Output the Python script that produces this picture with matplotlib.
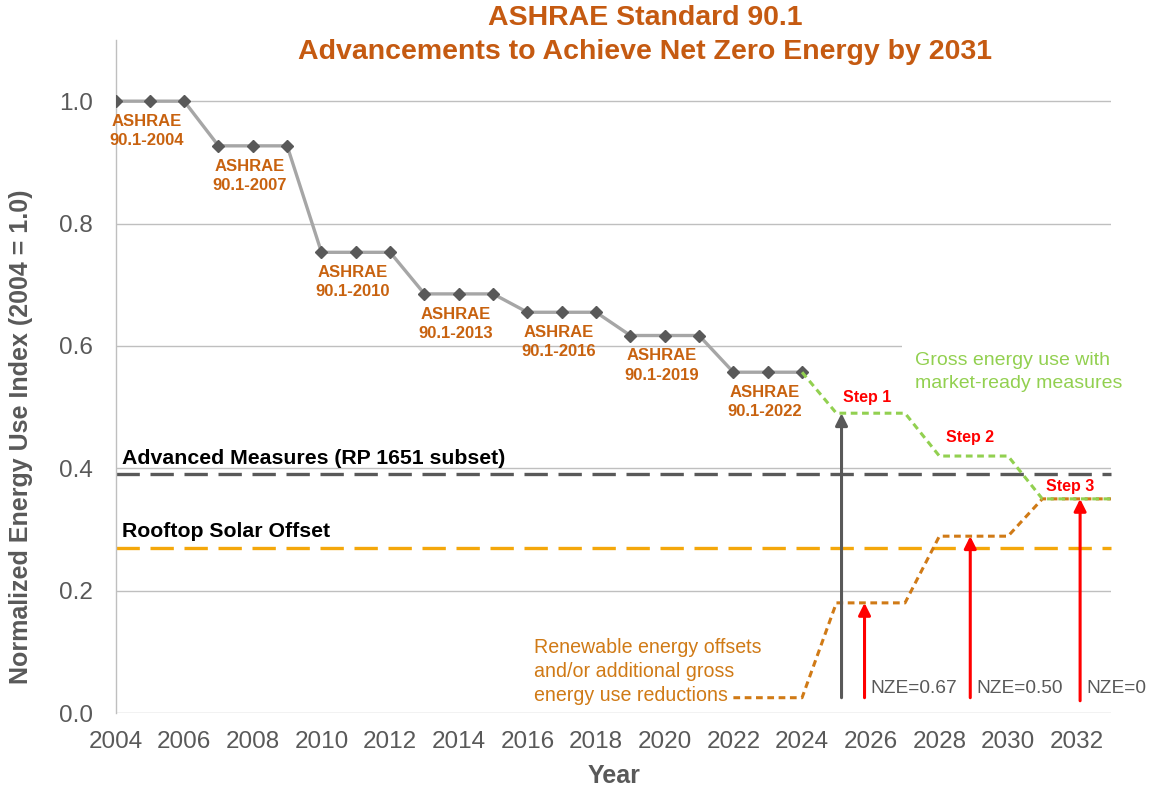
import matplotlib
matplotlib.use("Agg")
import matplotlib.pyplot as plt
from matplotlib.patches import Rectangle

plt.rcParams['font.family'] = ['Liberation Sans', 'DejaVu Sans']

# ---------------- data ----------------
years = list(range(2004, 2025))
eui = [1.0, 1.0, 1.0,
       0.927, 0.927, 0.927,
       0.753, 0.753, 0.753,
       0.685, 0.685, 0.685,
       0.655, 0.655, 0.655,
       0.617, 0.617, 0.617,
       0.557, 0.557, 0.557]

std_labels = ['ASHRAE\n90.1-2004', 'ASHRAE\n90.1-2007', 'ASHRAE\n90.1-2010',
              'ASHRAE\n90.1-2013', 'ASHRAE\n90.1-2016', 'ASHRAE\n90.1-2019',
              'ASHRAE\n90.1-2022']
std_mid_years = [2005, 2008, 2011, 2014, 2017, 2020, 2023]
std_values = [1.0, 0.927, 0.753, 0.685, 0.655, 0.617, 0.557]

gross_years = [2024, 2025, 2027, 2028, 2030, 2031, 2033]
gross_vals = [0.557, 0.49, 0.49, 0.42, 0.42, 0.35, 0.35]

renew_years = [2022, 2024, 2025, 2027, 2028, 2030, 2031, 2033]
renew_vals = [0.025, 0.025, 0.18, 0.18, 0.289, 0.289, 0.35, 0.35]

advanced_level = 0.39
solar_level = 0.27

gray_arrow = (2025.15, 0.025, 0.49)
red_arrow_x = [2025.82, 2028.9, 2032.1]
red_arrow_bottom = [0.025, 0.025, 0.02]
red_arrow_top = [0.18, 0.289, 0.35]
nze_labels = ['NZE=0.67', 'NZE=0.50', 'NZE=0']

step_labels = ['Step 1', 'Step 2', 'Step 3']
step_x = [2025.9, 2028.9, 2031.8]
step_y = [0.516, 0.45, 0.37]

x_ticks = list(range(2004, 2033, 2))
y_ticks = [0.0, 0.2, 0.4, 0.6, 0.8, 1.0]

# ---------------- colours ----------------
c_title = '#C55A11'
c_label = '#C8620F'
c_gray_line = '#A6A6A6'
c_marker = '#595959'
c_green = '#92D050'
c_orange = '#D07A16'
c_solar = '#F4A70A'
c_text = '#595959'
c_grid = '#BFBFBF'
c_red = '#FF0000'

W, H = 1156, 789
fig = plt.figure(figsize=(W / 100, H / 100), dpi=100)
ax = fig.add_axes([115.5 / W, 1 - 713 / H, (1111 - 115.5) / W, (713 - 40) / H])

ax.set_xlim(2004, 2033)
ax.set_ylim(0, 1.1)
ax.set_xticks(x_ticks)
ax.set_xticklabels([str(t) for t in x_ticks])
ax.set_yticks(y_ticks)
ax.set_yticklabels([f'{t:.1f}' for t in y_ticks])
ax.tick_params(axis='both', length=0, labelsize=17.5, colors=c_text)
ax.tick_params(axis='y', pad=16.5)
ax.tick_params(axis='x', pad=13)
ax.grid(axis='y', color=c_grid, lw=1.0)
ax.set_axisbelow(True)
for s in ['top', 'right', 'bottom']:
    ax.spines[s].set_visible(False)
ax.spines['left'].set_color(c_grid)
ax.spines['left'].set_linewidth(1.0)

# white patch behind the "Gross energy" note (hides part of the 0.6 grid line)
ax.add_patch(Rectangle((2026.9, 0.585), 6.5, 0.03, fc='white', ec='none',
                       zorder=1, clip_on=False))

# reference horizontal dashed lines
ax.plot([2004, 2033], [advanced_level] * 2, color='#595959', lw=2.4,
        dashes=(7, 3.2), zorder=2, clip_on=False)
ax.plot([2004, 2033], [solar_level] * 2, color=c_solar, lw=2.4,
        dashes=(7, 3.2), zorder=2, clip_on=False)
ax.text(2004.2, advanced_level + 0.011, 'Advanced Measures (RP 1651 subset)',
        fontsize=15.3, fontweight='bold', color='black', va='bottom', ha='left')
ax.text(2004.2, solar_level + 0.011, 'Rooftop Solar Offset',
        fontsize=15.3, fontweight='bold', color='black', va='bottom', ha='left')

# standards line
ax.plot(years, eui, color=c_gray_line, lw=2.4, zorder=3)
ax.plot(years, eui, ls='none', marker='D', ms=6, color=c_marker, zorder=4)
for lab, xm, v in zip(std_labels, std_mid_years, std_values):
    ax.annotate(lab, (xm, v), xytext=(-3, -30), textcoords='offset pixels',
                ha='center', va='center', fontsize=12, fontweight='bold',
                color=c_label, linespacing=1.35, zorder=5)

# projections
ax.plot(renew_years, renew_vals, color=c_orange, lw=2.2, dashes=(2.2, 1.5), zorder=4)
ax.plot(gross_years, gross_vals, color=c_green, lw=2.2, dashes=(2.2, 1.5), zorder=5)

# arrows
gx, gb, gt = gray_arrow
ax.annotate('', xy=(gx, gt), xytext=(gx, gb),
            arrowprops=dict(arrowstyle='-|>', color='#595959', lw=2.2,
                            mutation_scale=18, shrinkA=0, shrinkB=0), zorder=6)
for xr, yb, yt, lab in zip(red_arrow_x, red_arrow_bottom, red_arrow_top, nze_labels):
    ax.annotate('', xy=(xr, yt), xytext=(xr, yb),
                arrowprops=dict(arrowstyle='-|>', color=c_red, lw=2.2,
                                mutation_scale=18, shrinkA=0, shrinkB=0), zorder=6)
    ax.text(xr + 0.17, 0.04, lab, fontsize=13.8, color=c_text, va='center',
            ha='left', clip_on=False, zorder=6)

for lab, xs, ys in zip(step_labels, step_x, step_y):
    ax.text(xs, ys, lab, fontsize=11.5, fontweight='bold', color=c_red,
            ha='center', va='center', zorder=6)

# annotations
ax.text(2027.3, 0.558, 'Gross energy use with\nmarket-ready measures',
        fontsize=14, color=c_green, ha='left', va='center', linespacing=1.45,
        zorder=3, clip_on=False)
ax.text(2016.18, 0.068, 'Renewable energy offsets\nand/or additional gross\nenergy use reductions',
        fontsize=14.1, color=c_orange, ha='left', va='center', linespacing=1.35, zorder=3)

# titles and axis labels
fig.text(645 / W, 1 - 35 / H,
         'ASHRAE Standard 90.1\nAdvancements to Achieve Net Zero Energy by 2031',
         ha='center', va='center', fontsize=20.5, fontweight='bold', color=c_title,
         linespacing=1.38)
fig.text(21 / W, 1 - 437 / H, 'Normalized Energy Use Index (2004 = 1.0)',
         rotation=90, ha='center', va='center', fontsize=18, fontweight='bold',
         color=c_text)
fig.text(614 / W, 1 - 776 / H, 'Year', ha='center', va='center', fontsize=18,
         fontweight='bold', color=c_text)

fig.savefig('out.png', dpi=100)
